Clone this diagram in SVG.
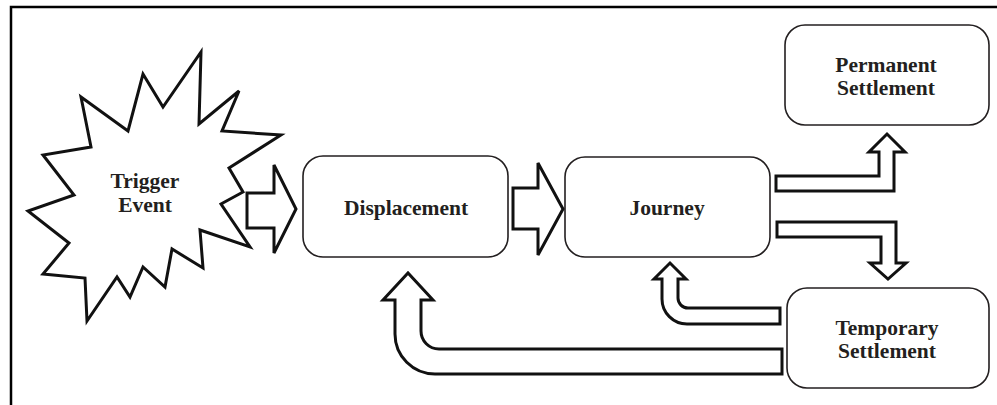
<svg xmlns="http://www.w3.org/2000/svg" width="997" height="405" viewBox="0 0 997 405">
<style>
.frame{stroke:#000;stroke-width:2.5;fill:none}
.box{fill:#fff;stroke:#231f20;stroke-width:1.6}
.burst{fill:#fff;stroke:#111;stroke-width:3;stroke-linejoin:miter}
.arr{fill:#fff;stroke:#111;stroke-width:3;stroke-linejoin:miter}
.lbl{font-family:"Liberation Serif","Times New Roman",serif;font-weight:bold;font-size:21.5px;fill:#231f20;text-anchor:middle}
</style>
<rect width="997" height="405" fill="#fff"/>
<path class="frame" d="M11,405 V7 H997"/>
<g id="trigger">
<polygon class="burst" points="201,52 199,124 239,91 222,131 281,135 229,168 243,192 221,204 250,247 200,230 203,268 172,249 165,287 143,267 130,297 117,277 87,321 85,278 43,274 69,243 28,211 74,195 43,155 91,147 81,97 128,131 143,74 163,107"/>
<text class="lbl" x="145" y="188">Trigger</text>
<text class="lbl" x="145" y="212">Event</text>
</g>
<g id="displacement">
<rect class="box" x="303" y="156" width="205" height="101" rx="20"/>
<text class="lbl" x="406" y="215">Displacement</text>
</g>
<g id="journey">
<rect class="box" x="565" y="157" width="205" height="100" rx="20"/>
<text class="lbl" x="667" y="215">Journey</text>
</g>
<g id="permanent">
<rect class="box" x="785" y="25" width="204" height="100" rx="20"/>
<text class="lbl" x="886" y="72">Permanent</text>
<text class="lbl" x="886" y="95">Settlement</text>
</g>
<g id="temporary">
<rect class="box" x="787" y="288" width="202" height="100" rx="20"/>
<text class="lbl" x="887" y="335">Temporary</text>
<text class="lbl" x="887" y="358">Settlement</text>
</g>
<g id="connectors">
<polygon class="arr" points="247,193 274,193 274,165 296,209 274,253 274,228 247,228"/>
<polygon class="arr" points="513,188 538,188 538,163 563,209 538,255 538,229 513,229"/>
<polygon class="arr" points="776,176 879,176 879,152 869,152 887,134 905,152 894,152 894,191 776,191"/>
<polygon class="arr" points="777,222 896,222 896,263 906,263 888,279 870,263 881,263 881,237 777,237"/>
<path class="arr" d="M780,308 H688 A10,10 0 0 1 678,298 V279 H686 L670,263 L654,279 H662 V299 A25,25 0 0 0 687,324 H780 Z"/>
<path class="arr" d="M782,349 H439 A18,18 0 0 1 421,331 V300 H433 L408,273 L383,300 H395 V334 A40,40 0 0 0 435,374 H782 Z"/>
</g>
</svg>
